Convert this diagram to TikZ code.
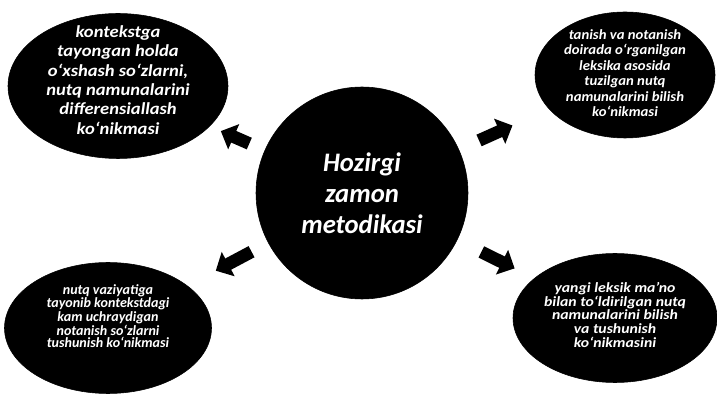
\documentclass[tikz,border=0pt]{standalone}
\usepackage{fontspec}
\setmainfont{Carlito}
\usetikzlibrary{shapes.geometric,arrows.meta}

\begin{document}
\begin{tikzpicture}[
  blob/.style={ellipse, fill=black, draw=black, inner sep=0pt},
  hubc/.style={circle, fill=black, draw=black, minimum size=5.3cm, inner sep=0pt,
               text=white, align=center, font=\fontsize{19}{22}\selectfont\bfseries\itshape},
  blobtext/.style={text=white, align=center, inner sep=0pt},
  big/.style={font=\fontsize{12}{13.7}\selectfont\bfseries\itshape\addfontfeatures{FakeStretch=1.1}},
  small/.style={font=\fontsize{10}{11}\selectfont\bfseries\itshape\addfontfeatures{FakeStretch=1.05}},
  tight/.style={font=\fontsize{10}{8.6}\selectfont\bfseries\itshape},
  wide/.style={font=\fontsize{10}{9.8}\selectfont\bfseries\itshape\addfontfeatures{FakeStretch=1.12}},
  fat/.style={line width=9pt, -{Triangle[length=10pt,width=19pt]}}
]
\useasboundingbox (0,0) rectangle (17.925,9.875);

\node[hubc] (hub) at (9.05,5.05) {Hozirgi\\zamon\\metodikasi};

\node[blob, minimum width=5.5cm,   minimum height=3.625cm] (tl) at (2.95,7.725) {};
\node[blob, minimum width=4.5cm,   minimum height=3.15cm]  (tr) at (15.625,8.0) {};
\node[blob, minimum width=5.175cm, minimum height=3.275cm] (bl) at (2.7,1.675)  {};
\node[blob, minimum width=5.1cm,   minimum height=3.225cm] (br) at (15.375,1.925) {};

\node[blobtext, big]   (tltext) at ([yshift=0.15cm]tl) {kontekstga\\tayongan holda\\o‘xshash so‘zlarni,\\nutq namunalarini\\differensiallash\\ko‘nikmasi};
\node[blobtext, small] (trtext) at ([yshift=0.05cm]tr) {tanish va notanish\\doirada o‘rganilgan\\leksika asosida\\tuzilgan nutq\\namunalarini bilish\\ko‘nikmasi};
\node[blobtext, tight] (bltext) at ([yshift=0.3cm]bl) {nutq vaziyatiga\\tayonib kontekstdagi\\kam uchraydigan\\notanish so‘zlarni\\tushunish ko‘nikmasi};
\node[blobtext, wide]  (brtext) at ([yshift=0.08cm]br) {yangi leksik ma’no\\bilan to‘ldirilgan nutq\\namunalarini bilish\\va tushunish\\ko‘nikmasini};

% the four skills grow out of the method in the middle
\draw[fat, shorten <=0.42cm, shorten >=0.3cm]  (hub) -- (tl);
\draw[fat, shorten <=0.55cm, shorten >=1cm]    (hub) -- (tr);
\draw[fat, shorten <=0.47cm, shorten >=0.8cm]  (hub) -- (bl);
\draw[fat, shorten <=0.67cm, shorten >=0.55cm] (hub) -- (br);

\end{tikzpicture}
\end{document}
